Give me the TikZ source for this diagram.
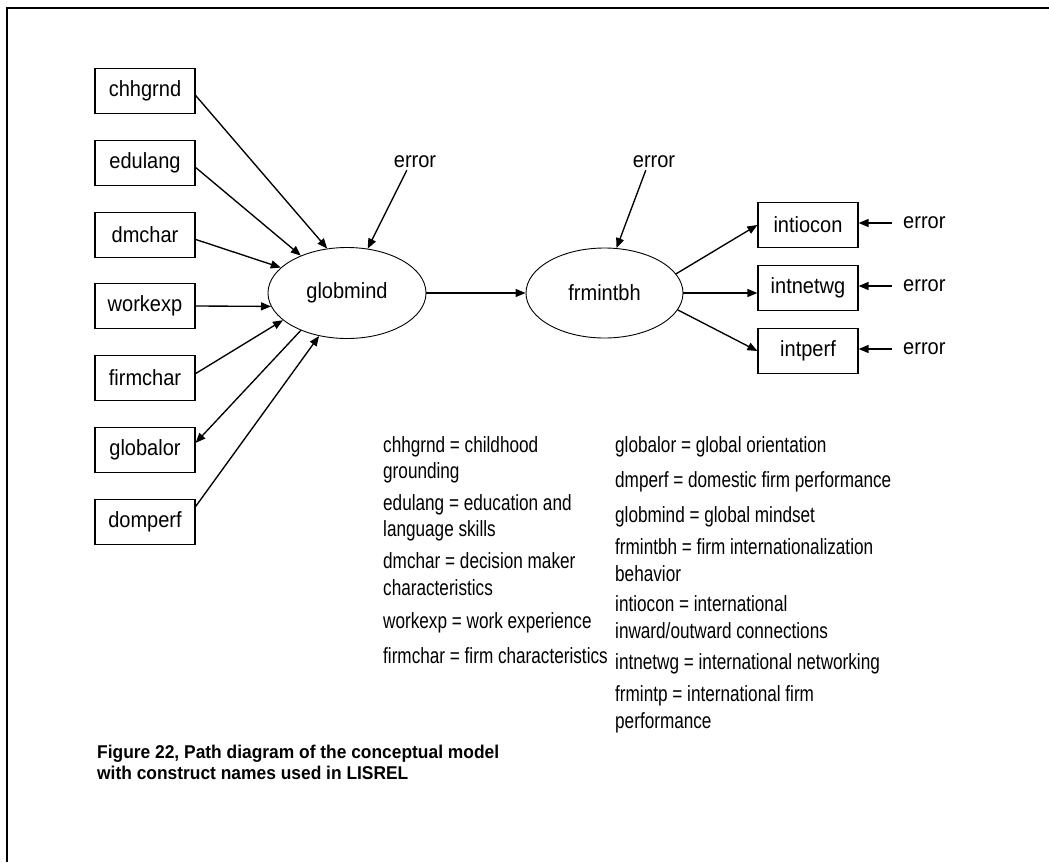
\documentclass[tikz,border=0pt]{standalone}
\usepackage{fontspec}
\setmainfont{Liberation Sans}
\newfontfamily\diagfont[FakeStretch=0.91]{Liberation Sans}
\newfontfamily\legendfont[FakeStretch=0.78]{Liberation Sans}
\newfontfamily\captionfont[FakeStretch=0.94]{Liberation Sans}
\usetikzlibrary{shapes.geometric,arrows.meta}

\begin{document}
\begin{tikzpicture}[x=1pt,y=-1pt,
  every node/.style={inner sep=0pt},
  var/.style={draw, line width=1.2pt, minimum width=100pt, minimum height=45pt,
    font=\diagfont\fontsize{22}{26}\selectfont},
  latent/.style={draw, ellipse, line width=0.9pt, minimum width=158pt, minimum height=91pt,
    font=\diagfont\fontsize{22}{26}\selectfont},
  errlabel/.style={inner sep=2pt, font=\diagfont\fontsize{22}{26}\selectfont},
  sideerr/.style={inner xsep=11pt, inner ysep=2pt, anchor=west,
    font=\diagfont\fontsize{22}{26}\selectfont},
  pathline/.style={line width=1.35pt, -{Triangle[length=10pt,width=8pt]}},
  legend/.style={anchor=base west, font=\legendfont\fontsize{22}{26}\selectfont},
  figcaption/.style={anchor=base west, font=\captionfont\bfseries\fontsize{18.5}{21}\selectfont}]

\useasboundingbox (0,0) rectangle (1049,862);

% page frame (top and left rules)
\draw[line width=2pt] (7,862) -- (7,8) -- (1049,8);

% observed exogenous variables
\node[var] (chh) at (145,91)  {chhgrnd};
\node[var] (edu) at (145,163) {edulang};
\node[var] (dmc) at (145,235) {dmchar};
\node[var] (wor) at (145,306) {workexp};
\node[var] (fir) at (145,378) {firmchar};
\node[var] (glo) at (145,450) {globalor};
\node[var] (dom) at (145,522) {domperf};

% latent constructs
\node[latent] (gm) at (347,293) {globmind};
\node[latent, minimum width=157pt, minimum height=90pt] (fb) at (604.5,293) {frmintbh};

% observed outcome variables
\node[var] (ioc) at (808,225) {intiocon};
\node[var] (net) at (808,288) {intnetwg};
\node[var] (prf) at (808,351) {intperf};

% error terms
\node[errlabel] (e1) at (415,162) {error};
\node[errlabel] (e2) at (654,162) {error};
\node[sideerr] (e3) at (892,223) {error};
\node[sideerr] (e4) at (892,286) {error};
\node[sideerr] (e5) at (892,349) {error};

% paths into globmind
\draw[pathline] (chh.-5) -- (gm.114);
\draw[pathline] (edu.-5) -- (gm.141);
\draw[pathline] (dmc.-5) -- (gm.159);
\draw[pathline] (wor.east) -- (gm.190);
\draw[pathline] (fir.5) -- (gm.203);
\draw[pathline] (gm.219) -- (glo.8);
\draw[pathline] (dom.17) -- (gm.237);
\draw[pathline] (e1.225) -- (gm.65);

% structural path and outcomes
\draw[pathline] (gm.east) -- (fb.west);
\draw[pathline] (e2.225) -- (fb.75);
\draw[pathline] (fb.15) -- (ioc.west);
\draw[pathline] (fb.east) -- (fb.east -| net.west);
\draw[pathline] (fb.-13) -- (prf.west);
\draw[pathline] (e3.west) -- (e3.west -| ioc.east);
\draw[pathline] (e4.west) -- (e4.west -| net.east);
\draw[pathline] (e5.west) -- (e5.west -| prf.east);

% legend, left column
\node[legend] (la1) at (383,452) {chhgrnd = childhood};
\node[legend] (la2) at (383,478) {grounding};
\node[legend] (lb1) at (383,510) {edulang = education and};
\node[legend] (lb2) at (383,536) {language skills};
\node[legend] (lc1) at (383,568) {dmchar = decision maker};
\node[legend] (lc2) at (383,595) {characteristics};
\node[legend] (ld1) at (383,628) {workexp = work experience};
\node[legend] (le1) at (383,663) {firmchar = firm characteristics};

% legend, right column
\node[legend] (ra1) at (615,452) {globalor = global orientation};
\node[legend] (rb1) at (615,487) {dmperf = domestic firm performance};
\node[legend] (rc1) at (615,522) {globmind = global mindset};
\node[legend] (rd1) at (615,554) {frmintbh = firm internationalization};
\node[legend] (rd2) at (615,581) {behavior};
\node[legend] (re1) at (615,611) {intiocon = international};
\node[legend] (re2) at (615,638) {inward/outward connections};
\node[legend] (rf1) at (615,669) {intnetwg = international networking};
\node[legend] (rg1) at (615,701) {frmintp = international firm};
\node[legend] (rg2) at (615,728) {performance};

% figure caption
\node[figcaption] (cap1) at (97,758) {Figure 22, Path diagram of the conceptual model};
\node[figcaption] (cap2) at (97,779) {with construct names used in LISREL};

\end{tikzpicture}
\end{document}
